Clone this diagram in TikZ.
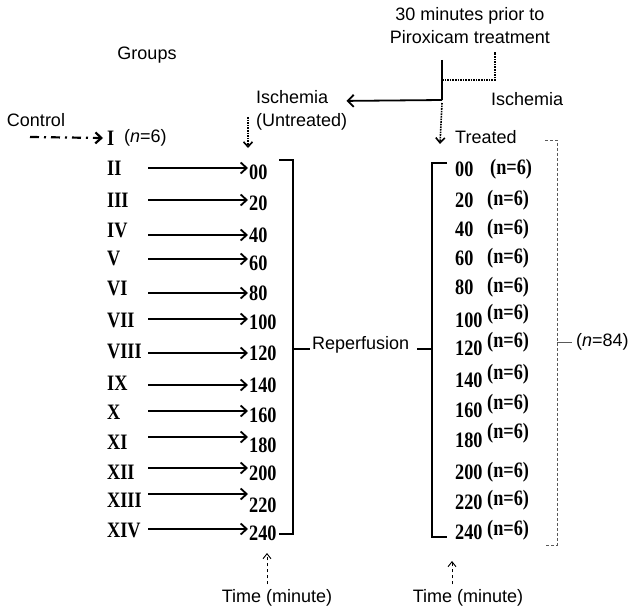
\documentclass[tikz,border=0pt]{standalone}
\usepackage{fontspec}
\setmainfont{Liberation Sans}
\newfontfamily\timesfont[FakeStretch=0.83]{Liberation Serif}
\usetikzlibrary{calc,arrows.meta}

\begin{document}
\begin{tikzpicture}[x=1pt,y=-1pt,
  sans text/.style={font=\fontsize{18}{23}\selectfont,inner sep=0pt},
  bold text/.style={font=\timesfont\bfseries\fontsize{22}{24}\selectfont,inner sep=0pt,anchor=west},
  group arrow/.style={-{Straight Barb[length=6pt,width=11pt]},line width=1.8pt},
  bracket line/.style={line width=2.6pt},
  dotted arrow/.style={-{Straight Barb[length=5pt,width=9pt]},densely dotted,line width=1.6pt},
  time arrow/.style={-{Straight Barb[length=5pt,width=8pt]},dashed,line width=0.9pt}]
  \useasboundingbox (0,0) rectangle (630,610);

  % headings
  \node[sans text] (groups) at (147,55) {Groups};
  \node[sans text] (control) at (36,120) {Control};
  \node[sans text,align=center] (prior) at (470,26) {30 minutes prior to\\Piroxicam treatment};
  \node[sans text,align=left,anchor=west] (ischemia untreated) at (256,110) {Ischemia\\(Untreated)};
  \node[sans text,anchor=west] (ischemia) at (491,99) {Ischemia};
  \node[sans text,anchor=west] (treated) at (455,137) {Treated};

  % control group
  \node[bold text] (group 1) at (107,138) {I};
  \node[sans text,anchor=west] (group 1 n) at (124,138) {(\textit{n}=6)};
  \coordinate (control start) at (30,137);
  \draw[-{Straight Barb[length=6pt,width=11pt]},line width=2.2pt,dash pattern=on 9pt off 5pt on 2pt off 5pt] (control start) -- ($ (group 1.west) + (-4,0) $);

  % untreated groups
  \node[bold text] (group 2) at (107,168) {II};
  \node[bold text] (group 3) at (107,200) {III};
  \node[bold text] (group 4) at (107,230) {IV};
  \node[bold text] (group 5) at (107,258) {V};
  \node[bold text] (group 6) at (107,288) {VI};
  \node[bold text] (group 7) at (107,320) {VII};
  \node[bold text] (group 8) at (107,351) {VIII};
  \node[bold text] (group 9) at (107,383) {IX};
  \node[bold text] (group 10) at (107,412) {X};
  \node[bold text] (group 11) at (107,442) {XI};
  \node[bold text] (group 12) at (107,472) {XII};
  \node[bold text] (group 13) at (107,500) {XIII};
  \node[bold text] (group 14) at (107,530) {XIV};

  \node[bold text] (untreated 0) at (249,172) {00};
  \node[bold text] (untreated 20) at (249,203) {20};
  \node[bold text] (untreated 40) at (249,235) {40};
  \node[bold text] (untreated 60) at (249,263) {60};
  \node[bold text] (untreated 80) at (249,293) {80};
  \node[bold text] (untreated 100) at (249,322) {100};
  \node[bold text] (untreated 120) at (249,353) {120};
  \node[bold text] (untreated 140) at (249,385) {140};
  \node[bold text] (untreated 160) at (249,415) {160};
  \node[bold text] (untreated 180) at (249,445) {180};
  \node[bold text] (untreated 200) at (249,473) {200};
  \node[bold text] (untreated 220) at (249,505) {220};
  \node[bold text] (untreated 240) at (249,533) {240};

  \coordinate (arrow start) at (148,0);
  \draw[group arrow] ($ (arrow start |- untreated 0.west) + (0,-4) $) -- ($ (untreated 0.west) + (-1,-4) $);
  \draw[group arrow] ($ (arrow start |- untreated 20.west) + (0,-3) $) -- ($ (untreated 20.west) + (-1,-3) $);
  \draw[group arrow] (arrow start |- untreated 40.west) -- ($ (untreated 40.west) + (-1,0) $);
  \draw[group arrow] ($ (arrow start |- untreated 60.west) + (0,-4) $) -- ($ (untreated 60.west) + (-1,-4) $);
  \draw[group arrow] (arrow start |- untreated 80.west) -- ($ (untreated 80.west) + (-1,0) $);
  \draw[group arrow] ($ (arrow start |- untreated 100.west) + (0,-3) $) -- ($ (untreated 100.west) + (-1,-3) $);
  \draw[group arrow] (arrow start |- untreated 120.west) -- ($ (untreated 120.west) + (-1,0) $);
  \draw[group arrow] (arrow start |- untreated 140.west) -- ($ (untreated 140.west) + (-1,0) $);
  \draw[group arrow] ($ (arrow start |- untreated 160.west) + (0,-4) $) -- ($ (untreated 160.west) + (-1,-4) $);
  \draw[group arrow] ($ (arrow start |- untreated 180.west) + (0,-8) $) -- ($ (untreated 180.west) + (-1,-8) $);
  \draw[group arrow] ($ (arrow start |- untreated 200.west) + (0,-5) $) -- ($ (untreated 200.west) + (-1,-5) $);
  \draw[group arrow] ($ (arrow start |- untreated 220.west) + (0,-11) $) -- ($ (untreated 220.west) + (-1,-11) $);
  \draw[group arrow] ($ (arrow start |- untreated 240.west) + (0,-4) $) -- ($ (untreated 240.west) + (-1,-4) $);

  % treated groups
  \node[bold text] (treated 0) at (455,169) {00};
  \node[bold text] (treated 20) at (455,200) {20};
  \node[bold text] (treated 40) at (455,229) {40};
  \node[bold text] (treated 60) at (455,258) {60};
  \node[bold text] (treated 80) at (455,287) {80};
  \node[bold text] (treated 100) at (455,320) {100};
  \node[bold text] (treated 120) at (455,348) {120};
  \node[bold text] (treated 140) at (455,380) {140};
  \node[bold text] (treated 160) at (455,410) {160};
  \node[bold text] (treated 180) at (455,440) {180};
  \node[bold text] (treated 200) at (455,472) {200};
  \node[bold text] (treated 220) at (455,502) {220};
  \node[bold text] (treated 240) at (455,532) {240};

  \node[bold text] (treated 0 n) at (490,169) {(n=6)};
  \node[bold text] (treated 20 n) at (487,200) {(n=6)};
  \node[bold text] (treated 40 n) at (487,229) {(n=6)};
  \node[bold text] (treated 60 n) at (487,258) {(n=6)};
  \node[bold text] (treated 80 n) at (487,287) {(n=6)};
  \node[bold text] (treated 100 n) at (487,314) {(n=6)};
  \node[bold text] (treated 120 n) at (487,342) {(n=6)};
  \node[bold text] (treated 140 n) at (487,374) {(n=6)};
  \node[bold text] (treated 160 n) at (487,404) {(n=6)};
  \node[bold text] (treated 180 n) at (487,433) {(n=6)};
  \node[bold text] (treated 200 n) at (487,472) {(n=6)};
  \node[bold text] (treated 220 n) at (487,500) {(n=6)};
  \node[bold text] (treated 240 n) at (487,530) {(n=6)};

  % reperfusion brackets
  \node[sans text,anchor=west] (reperfusion) at (312,345) {Reperfusion};
  \coordinate (left top) at (279,160);
  \coordinate (left bottom) at (279,534);
  \coordinate (right top) at (447,163);
  \coordinate (right bottom) at (447,537);
  \draw[bracket line] (left top) -- (293,160) -- (293,534) -- (left bottom);
  \draw[bracket line] (293,349) -- ($ (reperfusion.west) + (-2,4) $);
  \draw[bracket line] (right top) -- (432,163) -- (432,537) -- (right bottom);
  \draw[bracket line] (432,349) -- ($ (reperfusion.east) + (8,4) $);

  % treatment and ischemia
  \coordinate (bend) at (442,100);
  \coordinate (prior end) at (442,60);
  \coordinate (ischemia end) at (495,52);
  \coordinate (untreated start) at (248,117);
  \coordinate (untreated tip) at (248,148);
  \draw[line width=1.5pt] (prior end) -- (bend);
  \draw[-{Straight Barb[length=6pt,width=12pt]},line width=1.8pt] (bend) -- ($ (ischemia untreated.north east) + (-1,11) $);
  \draw[dotted arrow] ($ (bend) + (0,3) $) -- ($ (treated.west) + (-15,7) $);
  \draw[densely dotted,line width=1.6pt] (442,80) -- (495,80) -- (ischemia end);
  \draw[dotted arrow] (untreated start) -- (untreated tip);

  % total treated
  \node[sans text,anchor=west] (total) at (576,342) {(\textit{n}=84)};
  \draw[densely dashed,line width=0.6pt,gray!70!black] (545,140) -- (557,140) -- (557,545) -- (545,545);
  \draw[line width=0.6pt,gray!70!black] (557,342) -- ($ (total.west) + (-4,0) $);

  % time axes
  \node[sans text] (time left) at (277,598) {Time (minute)};
  \node[sans text] (time right) at (468,598) {Time (minute)};
  \coordinate (time left tip) at (267,553);
  \coordinate (time right tip) at (452,561);
  \draw[time arrow] (time left.north -| time left tip) ++(0,-5) -- (time left tip);
  \draw[time arrow] (time right.north -| time right tip) ++(0,-5) -- (time right tip);
\end{tikzpicture}
\end{document}
